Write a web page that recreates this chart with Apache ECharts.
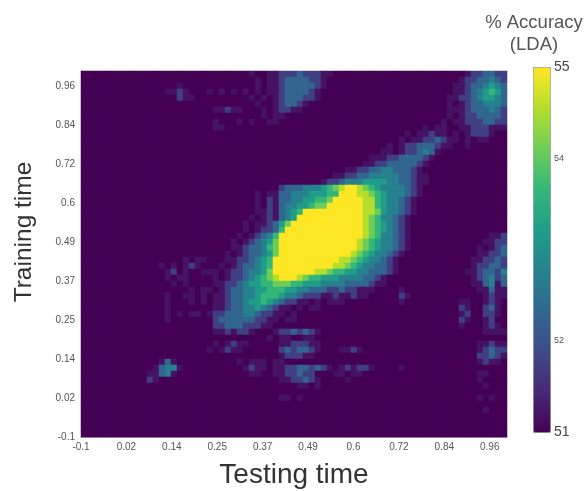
<!DOCTYPE html>
<html>
<head>
<meta charset="utf-8">
<style>html,body{margin:0;padding:0;background:#fff}#chart{width:585px;height:491px;filter:blur(0.5px)}</style>
<script src="https://cdn.jsdelivr.net/npm/echarts@6/dist/echarts.min.js"></script>
</head>
<body>
<div id="chart"></div>
<script>
// Time tick labels on both axes
const timeTicks = ['-0.1','0.02','0.14','0.25','0.37','0.49','0.6','0.72','0.84','0.96'];
const tickSpan = 9.38; // the axes run a little past the last labelled tick
const colorbarTicks = {51:'51',52:'52',54:'54',55:'55'};
const accuracyMin = 51, accuracyMax = 55;
const nCols = 71, nRows = 61;
const viridis = ['#440154','#482878','#3e4a89','#31688e','#26828e','#1f9e89','#35b779','#6ece58','#b5de2b','#fde725'];
// % accuracy that each reading level stands for
const levelValues = [51, 51.2, 51.75, 52.3, 52.75, 53.2, 53.65, 54.1, 54.55, 55];

// [row from top, first column, levels 0..9]; all other cells sit at the 51 floor
const readings = [
[0,28,"10011222322211"],[1,28,"01011233332210"],[2,29,"101123333321"],[3,27,"10101123333210"],[4,28,"1010123332210"],
[5,29,"100123321"],[6,29,"01012211"],[7,30,"101100"],[8,26,"10100110"],
[2,15,"01"],[3,14,"11210"],[4,15,"0211"],[3,21,"10101"],[6,22,"11211"],[8,22,"1"],[9,22,"11"],
[0,64,"1223322"],[1,63,"12233432"],[2,62,"112334543"],[3,62,"112345653"],[4,61,"1122345543"],[5,61,"1012334443"],
[6,61,"1112333432"],[7,61,"1012233332"],[8,60,"10112223322"],[9,60,"11011222111"],[10,60,"101012221"],[11,62,"101011"],[12,61,"1001"],
[9,56,"010110"],[10,54,"101121"],[11,53,"101122321"],[12,51,"1012233321"],[13,50,"1101223431"],[14,48,"11122333321"],
[15,47,"112233333210"],[16,44,"1122334433321"],[17,42,"1122334444433211"],[18,40,"122344455554433211"],
[19,33,"2333444567899876544443210"],
[20,29,"10113344455566999887654443210"],
[21,29,"1021334455667999998865443210"],
[22,29,"102134455677999999886544321"],
[23,29,"1121345699999999998875443210"],
[24,28,"101213459999999999987644321"],
[25,27,"1011235799999999999987654321"],
[26,27,"1012236999999999999987654321"],
[27,26,"10123469999999999999987644321"],
[28,25,"101234579999999999999876544321"],
[29,25,"112334679999999999999876544321"],
[30,24,"1012334579999999999998765443210"],
[31,24,"112234569999999999988765443210"],
[32,23,"101233456999999999988765443321"],
[33,22,"1012234457999999988766554433321"],
[34,22,"10122345678999876655544443321"],
[35,22,"11223455667776655544443333211"],
[36,21,"10123344556665544333223221110"],
[37,20,"1011233445666544322211211211"],
[38,22,"1123345565432211010111"],
[39,22,"112334454321101011"],[40,21,"1223334432211010"],[41,22,"233333322110110"],
[42,22,"22333222110"],[43,22,"1121221"],[43,32,"12232321"],[44,31,"10110011"],
[45,22,"101211"],[45,33,"1122211"],[46,21,"1012110"],[46,33,"2323321"],[46,42,"01121"],[47,33,"1222110"],
[48,26,"1011"],[48,30,"1011"],[49,27,"12110112233232"],[49,41,"101212210"],[50,28,"11001122322"],[50,42,"11011"],
[51,33,"1122321"],[51,44,"1"],[52,36,"1101"],[54,33,"1101"],
[48,12,"0131"],[49,12,"13441"],[50,11,"11341"],[51,11,"21"],
[37,14,"1"],[38,14,"1"],[39,14,"1"],[40,14,"1"],[41,14,"1"],
[31,17,"1011"],[32,13,"1010"],[32,17,"121"],[33,14,"1201"],[33,20,"11"],[34,14,"1011"],[35,15,"101"],
[36,18,"101"],[37,17,"11"],[38,18,"101"],[40,16,"1"],[40,18,"11"],
[27,68,"112"],[28,67,"1122"],[29,66,"10123"],[30,66,"11223"],[31,65,"112232"],[32,65,"122332"],[33,64,"1123324"],
[34,65,"123423"],[35,65,"113413"],[36,66,"11311"],[37,67,"1211"],
[38,63,"11"],[38,67,"121"],[39,63,"21"],[39,67,"231"],[40,63,"12"],[40,67,"221"],[41,63,"21"],[41,67,"12"],[42,63,"1"],[42,67,"121"],[43,67,"1111"],
[36,53,"1"],[37,53,"21"],[38,53,"1"],[49,53,"1"],
[45,66,"11211"],[46,66,"12322"],[47,66,"22321"],[48,66,"1211"],[50,66,"11"],[51,66,"1"],[52,67,"1"],[54,66,"101"],[56,67,"1"]
];

const colIds = Array.from({length:nCols},(_,i)=>i);
const rowIds = Array.from({length:nRows},(_,i)=>i);
const levels = rowIds.map(()=>colIds.map(()=>0));
readings.forEach(([r,c,s])=>{ [...s].forEach((d,i)=>{ if(c+i<nCols) levels[r][c+i]=+d; }); });
const cells = [];
rowIds.forEach(r=>colIds.forEach(c=>{
  cells.push([c, nRows-1-r, levelValues[levels[r][c]]]);
}));

const FONT = '"Liberation Sans", Arial, sans-serif';
const edge = {show:true, lineStyle:{color:'#b7a6bd', width:1}};
const chart = echarts.init(document.getElementById('chart'), null, {renderer:'canvas'});
chart.setOption({
  animation:false,
  backgroundColor:'#fff',
  title:{text:'% Accuracy\n(LDA)', left:529, top:7, textAlign:'center',
    textStyle:{fontFamily:FONT,fontSize:18.5,fontWeight:'normal',color:'#555',lineHeight:22}},
  grid:[
    {left:81, top:71, width:426, height:366, outerBoundsMode:'none'},
    {left:533, top:67, width:17, height:365, outerBoundsMode:'none'}
  ],
  xAxis:[
    {type:'category', gridIndex:0, data:colIds, position:'top', axisLine:edge, axisTick:{show:false}, axisLabel:{show:false}, splitLine:{show:false}},
    {type:'value', gridIndex:0, min:0, max:tickSpan, interval:1, position:'bottom', axisLine:edge, axisTick:{show:false}, splitLine:{show:false},
      name:'Testing time', nameLocation:'middle', nameGap:24,
      nameTextStyle:{fontFamily:FONT,fontSize:28,color:'#333'},
      axisLabel:{margin:5,fontFamily:FONT,fontSize:10,color:'#555',showMaxLabel:false,formatter:v=>timeTicks[v]||''}},
    {type:'value', gridIndex:1, min:0, max:1, show:false}
  ],
  yAxis:[
    {type:'category', gridIndex:0, data:rowIds, position:'right', axisLine:edge, axisTick:{show:false}, axisLabel:{show:false}, splitLine:{show:false}},
    {type:'value', gridIndex:0, min:0, max:tickSpan, interval:1, position:'left', axisLine:edge, axisTick:{show:false}, splitLine:{show:false},
      name:'Training time', nameLocation:'middle', nameGap:44, nameRotate:90,
      nameTextStyle:{fontFamily:FONT,fontSize:24.5,color:'#333',padding:[0,0,0,44]},
      axisLabel:{margin:6,fontFamily:FONT,fontSize:10,color:'#555',showMaxLabel:false,formatter:v=>timeTicks[v]||''}},
    {type:'value', gridIndex:1, min:accuracyMin, max:accuracyMax, interval:1, position:'right',
      axisLine:{show:false}, axisTick:{show:false}, splitLine:{show:false},
      axisLabel:{margin:4,formatter:v=>{const t=colorbarTicks[v]; if(!t) return ''; return (v===51||v===55)?'{b|'+t+'}':'{s|'+t+'}';},
        rich:{b:{fontFamily:FONT,fontSize:14,color:'#444'},s:{fontFamily:FONT,fontSize:9,color:'#555'}}}}
  ],
  visualMap:{type:'continuous', min:accuracyMin, max:accuracyMax, seriesIndex:0, calculable:false, hoverLink:false,
    left:533, top:67, itemWidth:17, itemHeight:365, padding:0, text:null, showLabel:false,
    borderColor:'#9a9a9a', borderWidth:1,
    inRange:{color:viridis}},
  series:[{type:'heatmap', xAxisIndex:0, yAxisIndex:0, data:cells, progressive:0, silent:true, emphasis:{disabled:true}}]
});
</script>
</body>
</html>
